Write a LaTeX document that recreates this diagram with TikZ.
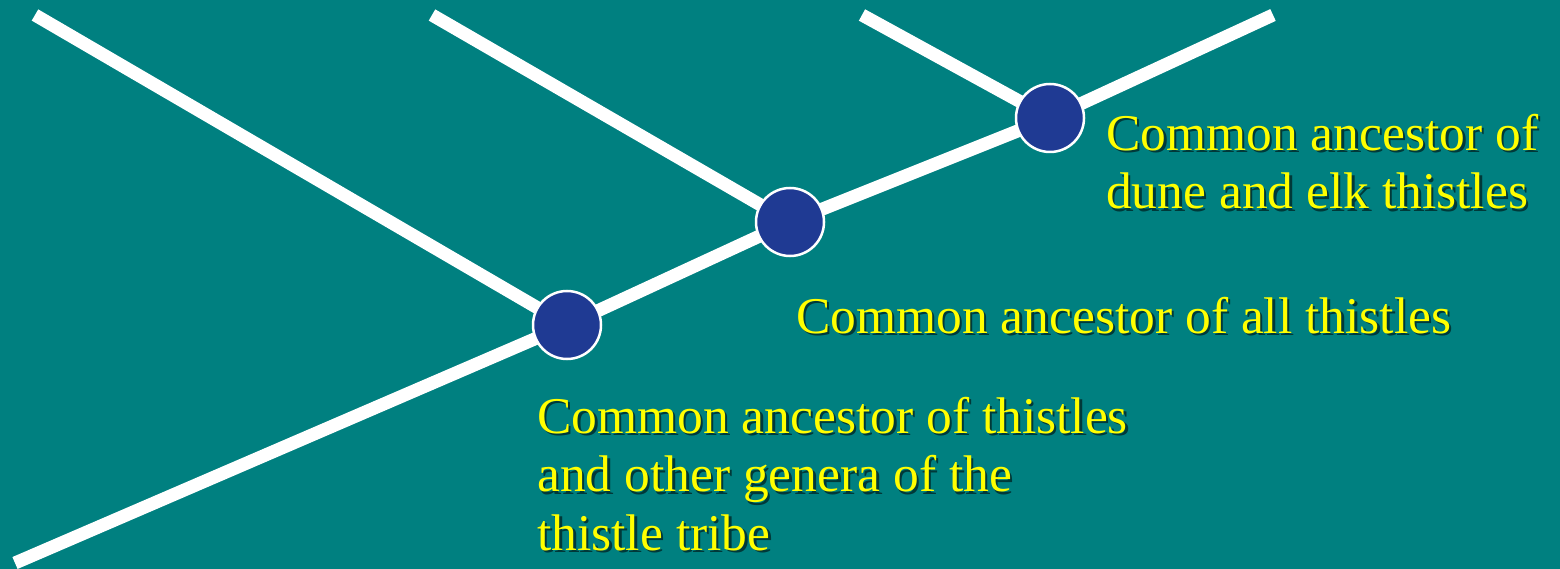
\documentclass[tikz,border=0pt]{standalone}
\usepackage{fontspec}
\setmainfont{Liberation Serif}
\definecolor{bgteal}{HTML}{008080}
\definecolor{dotblue}{HTML}{1F3A93}
\definecolor{txtyellow}{HTML}{FFFF00}
\begin{document}
\begin{tikzpicture}[x=1pt,y=-1pt,
  branch/.style={draw=white,line width=13pt,line cap=butt},
  dot/.style={circle,draw=white,line width=2.5pt,fill=dotblue,minimum size=68pt,inner sep=0pt},
  lbl/.style={anchor=base west,align=left,inner sep=0pt,text=txtyellow,font=\fontsize{51.5}{58.5}\selectfont},
  lblshadow/.style={lbl,text=black,opacity=0.55,xshift=2.5pt,yshift=-2.5pt}
]
\useasboundingbox[fill=bgteal] (0,0) rectangle (1560,569);
% points
\coordinate (root) at (15,563);
\coordinate (leafA) at (35,15);
\coordinate (leafB) at (432,15);
\coordinate (leafC) at (862,15);
\coordinate (leafD) at (1273,15);
\coordinate (p1) at (567,325);
\coordinate (p2) at (790,222);
\coordinate (p3) at (1050,118);
% branches
\draw[branch] (root) -- (p1) -- (p2) -- (p3) -- (leafD);
\draw[branch] (leafA) -- (p1);
\draw[branch] (leafB) -- (p2);
\draw[branch] (leafC) -- (p3);
% ancestor nodes
\node[dot] (c1) at (p1) {};
\node[dot] (c2) at (p2) {};
\node[dot] (c3) at (p3) {};
% labels (base anchor = last line's baseline)
\node[lblshadow] at (1106,209) {Common ancestor of\\dune and elk thistles};
\node[lbl] (t3) at (1106,209) {Common ancestor of\\dune and elk thistles};
\node[lblshadow] at (796,333) {Common ancestor of all thistles};
\node[lbl] (t2) at (796,333) {Common ancestor of all thistles};
\node[lblshadow] at (537,550) {Common ancestor of thistles\\and other genera of the\\thistle tribe};
\node[lbl] (t1) at (537,550) {Common ancestor of thistles\\and other genera of the\\thistle tribe};
\end{tikzpicture}
\end{document}
